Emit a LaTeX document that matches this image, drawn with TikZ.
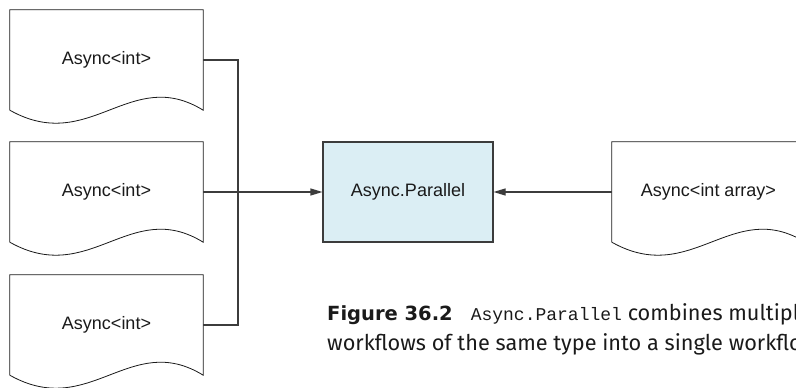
\documentclass[tikz,border=0pt]{standalone}
\usepackage{fontspec}
\setmainfont{Liberation Sans}
\setmonofont{Liberation Mono}
\newfontfamily\capfont{Fira Sans}
\newfontfamily\capbold{DejaVu Sans}
\usepackage{xcolor}
\usepackage{tikz}
\usetikzlibrary{positioning,arrows.meta,calc}
\definecolor{ink}{HTML}{1A1A1A}
\definecolor{wire}{HTML}{3C3C3C}
\definecolor{paleblue}{HTML}{DBEEF4}
\tikzset{
  doc/.style    ={minimum width=193pt, minimum height=100pt, inner sep=0pt,
                  font=\fontsize{18}{20}\selectfont, text=ink},
  docline/.style={draw=ink, line width=0.8pt, fill=white},
  proc/.style   ={draw=wire, fill=paleblue, line width=1.1pt, minimum width=170pt,
                  minimum height=100pt, inner sep=0pt, font=\fontsize{18}{20}\selectfont, text=ink},
  wirearr/.style={-{Triangle[length=12pt,width=7pt]}, draw=wire, line width=1.1pt},
  wireln/.style ={draw=wire, line width=1.1pt},
}
% document outline with a wavy bottom edge, drawn round a named node
\newcommand{\docshape}[1]{%
  \path[docline] (#1.south west) -- (#1.north west) -- (#1.north east) -- (#1.south east)
    .. controls +(-73,-45) and +(80,45) .. (#1.south west);}
\begin{document}
\begin{tikzpicture}[x=1pt, y=-1pt]
\useasboundingbox (0,0) rectangle (796,388);
\clip (0,0) rectangle (796,388);
% inputs
\node[doc] (in1) at (106.5,60)  {};
\node[doc] (in2) at (106.5,192) {};
\node[doc] (in3) at (106.5,325) {};
\node[doc] (arr) at (708.5,192) {};
\foreach \n in {in1,in2,in3,arr} { \docshape{\n} }
\node[doc] at (in1) {Async<int>};
\node[doc] at (in2) {Async<int>};
\node[doc] at (in3) {Async<int>};
\node[doc] at (arr) {Async<int array>};
% combinator
\node[proc] (par) at (408,192) {Async.Parallel};
% wiring
\coordinate (bus) at (238,192);
\draw[wireln] (in1.east) -| (bus) |- (in3.east);
\draw[wirearr] (in2.east) -- (par.west);
\draw[wirearr] (arr.west) -- (par.east);
% caption
\node[anchor=base west, align=left, inner sep=0pt, text=ink,
      font=\capfont\fontsize{21.7}{30}\selectfont] (cap) at (327,350)
  {{\capbold\bfseries\fontsize{19.5}{30}\selectfont Figure 36.2}\hspace{18pt}{\ttfamily\fontsize{18}{30}\selectfont Async.Parallel} combines multiple\\
   workflows of the same type into a single workflow.};
\end{tikzpicture}
\end{document}
